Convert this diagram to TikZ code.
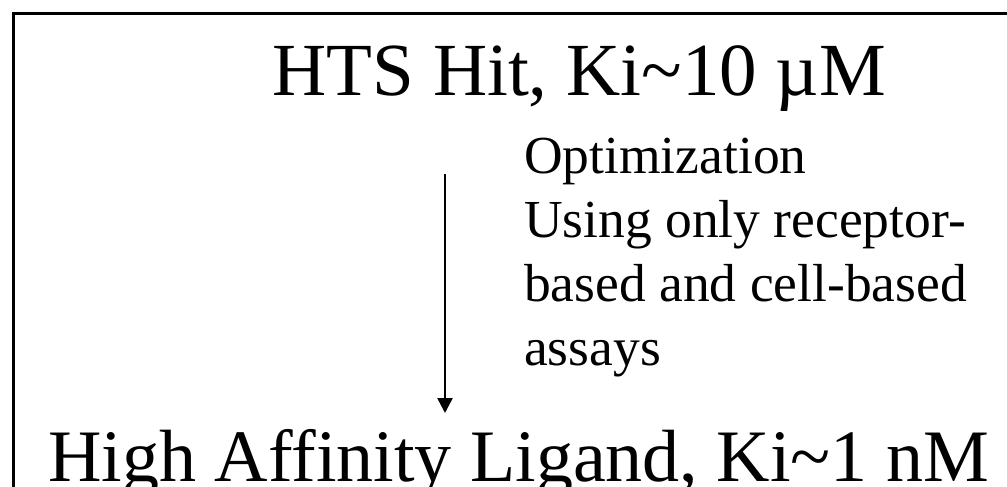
\documentclass[tikz,border=0pt]{standalone}
\usepackage{fontspec}
\setmainfont{Liberation Serif}
\usetikzlibrary{arrows.meta}
\tikzset{
  bigtext/.style={inner sep=0pt, font=\fontsize{74}{88}\selectfont},
  toptext/.style={inner sep=0pt, font=\fontsize{75}{88}\selectfont},
  smalltext/.style={inner sep=0pt, align=left, font=\fontsize{53.5}{64}\selectfont},
  frameline/.style={line width=3pt, line cap=rect},
  flowarrow/.style={line width=2.6pt, -{Triangle[length=15pt,width=15pt]}}
}
\begin{document}
\begin{tikzpicture}[x=1pt,y=-1pt]
\useasboundingbox (0,0) rectangle (1007,487);
\fill[white] (0,0) rectangle (1007,487);
\draw[frameline] (1020,14) -- (13,14) -- (13,500);
\node[toptext, anchor=base west] (hit) at (272.5,95.5) {HTS Hit, Ki\textasciitilde 10 µM};
\node[bigtext, anchor=base west] (lig) at (48,481) {High Affinity Ligand, Ki\textasciitilde 1 nM};
\node[smalltext, anchor=base west] (opt) at (524,365) {Optimization\\Using only receptor-\\based and cell-based\\assays};
\coordinate (s) at (445,174);
\coordinate (e) at (445,413);
\draw[flowarrow] (s) -- (e);
\end{tikzpicture}
\end{document}
